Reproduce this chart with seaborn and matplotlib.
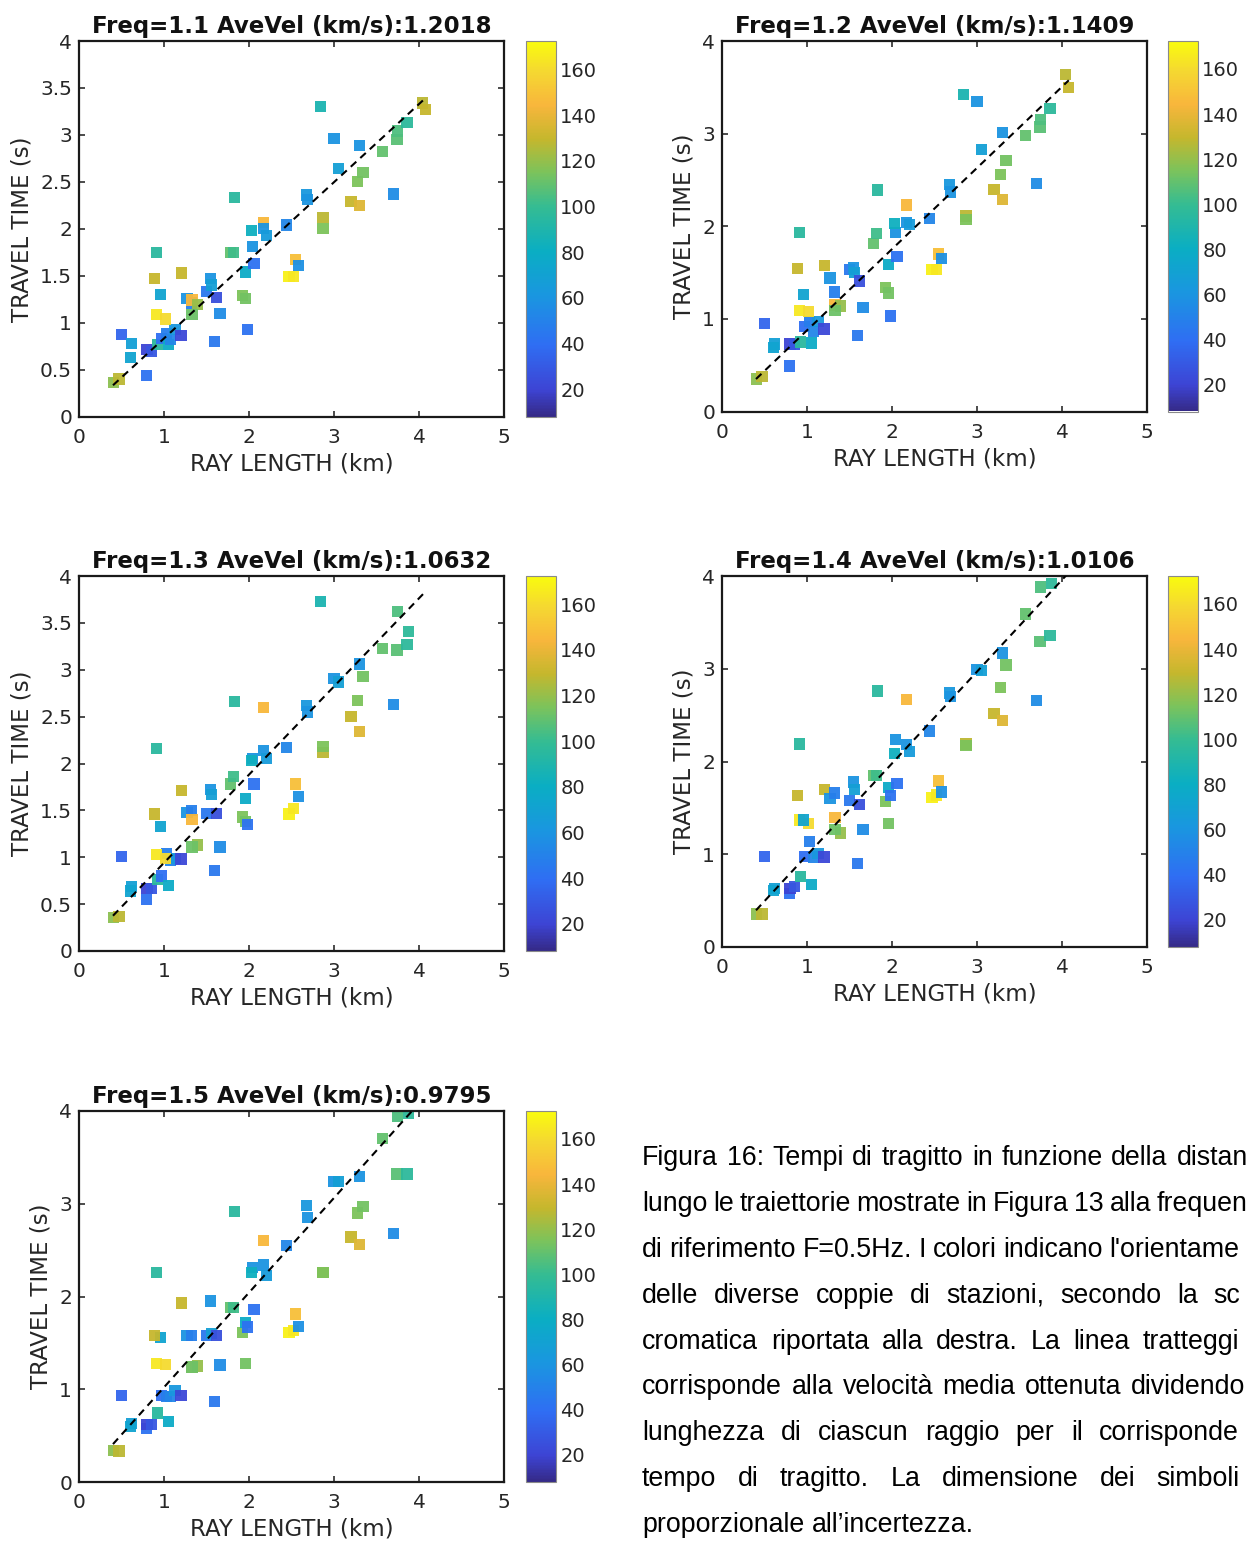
import numpy as np
import pandas as pd
import matplotlib
matplotlib.use("Agg")
import matplotlib.pyplot as plt
import seaborn as sns
from matplotlib.colors import LinearSegmentedColormap, Normalize
from matplotlib.ticker import FixedLocator, FuncFormatter
import matplotlib.cm as cm

nan = np.nan

# ---------------- data ----------------
RAY_LENGTH = [0.41, 0.47, 0.50, 0.62, 0.61, 0.79, 0.80, 0.85, 0.92, 0.97,
              1.03, 1.05, 1.08, 1.13, 1.20, 0.91, 1.02, 0.96, 0.89, 0.91,
              1.21, 1.27, 1.32, 1.33, 1.39, 1.33, 1.50, 1.55, 1.56, 1.62,
              1.66, 1.59, 1.78, 1.82, 1.83, 1.92, 1.96, 1.96, 1.98, 2.06,
              2.04, 2.03, 2.17, 2.17, 2.21, 2.44, 2.47, 2.52, 2.55, 2.58,
              2.68, 2.69, 2.84, 2.87, 2.87, 3.00, 3.05, 3.20, 3.30, 3.28,
              3.34, 3.30, 3.57, 3.70, 3.74, 3.75, 3.86, 4.04, 4.08, 3.88]

AZIMUTH = [118, 128, 35, 68, 72, 42, 20, 28, 95, 40,
           48, 78, 52, 62, 22, 165, 160, 72, 130, 95,
           130, 60, 48, 145, 120, 112, 45, 60, 68, 25,
           55, 45, 110, 102, 95, 115, 113, 78, 42, 42,
           60, 82, 145, 60, 65, 52, 168, 165, 148, 58,
           62, 60, 88, 128, 115, 60, 68, 130, 137, 115,
           113, 60, 110, 55, 108, 105, 96, 128, 130, 97]

TT_F11 = [0.36, 0.40, 0.87, 0.78, 0.63, 0.44, 0.71, 0.69, 0.77, 0.83,
          0.88, 0.77, 0.82, 0.93, 0.86, 1.09, 1.04, 1.30, 1.47, 1.75,
          1.53, 1.26, 1.21, 1.24, 1.19, 1.09, 1.33, 1.47, 1.40, 1.27,
          1.10, 0.80, 1.75, 1.75, 2.33, 1.29, 1.26, 1.54, 0.93, 1.63,
          1.81, 1.98, 2.07, 2.00, 1.93, 2.04, 1.49, 1.49, 1.67, 1.61,
          2.36, 2.31, 3.30, 2.12, 2.00, 2.96, 2.64, 2.29, 2.25, 2.50,
          2.60, 2.89, 2.82, 2.37, 2.95, 3.04, 3.13, 3.34, 3.27, nan]

TT_F12 = [0.35, 0.38, 0.95, 0.73, 0.69, 0.49, 0.73, 0.72, 0.75, 0.92,
          0.97, 0.74, 0.86, 0.97, 0.89, 1.09, 1.08, 1.26, 1.54, 1.93,
          1.58, 1.44, 1.29, 1.15, 1.14, 1.09, 1.53, 1.55, 1.50, 1.41,
          1.12, 0.82, 1.81, 1.92, 2.39, 1.34, 1.28, 1.59, 1.03, 1.67,
          1.93, 2.03, 2.23, 2.04, 2.02, 2.08, 1.53, 1.53, 1.70, 1.65,
          2.45, 2.37, 3.42, 2.11, 2.07, 3.35, 2.83, 2.40, 2.29, 2.56,
          2.71, 3.01, 2.98, 2.46, 3.07, 3.15, 3.27, 3.64, 3.50, nan]

TT_F13 = [0.355, 0.37, 1.01, 0.69, 0.64, 0.55, 0.67, 0.67, 0.76, 0.80,
          1.04, 0.70, 0.97, 0.99, 0.98, 1.03, 0.99, 1.33, 1.46, 2.16,
          1.71, 1.48, 1.50, 1.40, 1.13, 1.11, 1.47, 1.72, 1.67, 1.47,
          1.11, 0.86, 1.78, 1.86, 2.66, 1.43, 1.38, 1.63, 1.35, 1.78,
          2.05, 2.03, 2.60, 2.14, 2.05, 2.17, 1.46, 1.52, 1.78, 1.65,
          2.62, 2.55, 3.73, 2.12, 2.18, 2.91, 2.87, 2.50, 2.34, 2.67,
          2.93, 3.06, 3.23, 2.63, 3.21, 3.62, 3.27, nan, nan, 3.41]

TT_F14 = [0.355, 0.355, 0.975, 0.63, 0.61, 0.58, 0.63, 0.65, 0.76, 0.975,
          1.14, 0.67, 0.97, 1.01, 0.97, 1.37, 1.33, 1.37, 1.63, 2.19,
          1.70, 1.60, 1.66, 1.40, 1.23, 1.27, 1.58, 1.78, 1.70, 1.54,
          1.27, 0.90, 1.85, 1.85, 2.76, 1.57, 1.33, 1.72, 1.63, 1.76,
          2.24, 2.09, 2.67, 2.18, 2.11, 2.33, 1.61, 1.64, 1.79, 1.67,
          2.74, 2.70, nan, 2.19, 2.17, 2.99, 2.98, 2.52, 2.44, 2.80,
          3.04, 3.17, 3.59, 2.66, 3.29, 3.88, 3.36, nan, nan, 3.92]

TT_F15 = [0.34, 0.335, 0.935, 0.63, 0.60, 0.575, 0.62, 0.62, 0.745, 0.935,
          0.925, 0.655, 0.925, 0.99, 0.935, 1.28, 1.27, 1.56, 1.58, 2.26,
          1.93, 1.58, 1.58, 1.24, 1.25, 1.24, 1.58, 1.95, 1.60, 1.58,
          1.26, 0.87, 1.88, 1.88, 2.92, 1.61, 1.28, 1.72, 1.67, 1.86,
          2.31, 2.26, 2.60, 2.34, 2.23, 2.55, 1.61, 1.63, 1.81, 1.68,
          2.98, 2.85, nan, 2.26, 2.26, 3.24, 3.24, 2.64, 2.56, 2.90,
          2.97, 3.29, 3.70, 2.68, 3.32, 3.94, 3.32, nan, nan, 3.97]

FREQS = [1.1, 1.2, 1.3, 1.4, 1.5]
AVE_VEL = [1.2018, 1.1409, 1.0632, 1.0106, 0.9795]
TRAVEL_TIMES = [TT_F11, TT_F12, TT_F13, TT_F14, TT_F15]
LINE_X = [0.40, 4.08]

X_TICKS = [0, 1, 2, 3, 4, 5]
Y_TICKS_FINE = [0, 0.5, 1, 1.5, 2, 2.5, 3, 3.5, 4]
Y_TICKS_COARSE = [0, 1, 2, 3, 4]
CBAR_TICKS = [20, 40, 60, 80, 100, 120, 140, 160]
CBAR_LIMITS = (8.0, 172.4)

CAPTION_LINES = [
    "Figura 16: Tempi di tragitto in funzione della distanza",
    "lungo le traiettorie mostrate in Figura 13 alla frequenza",
    "di riferimento F=0.5Hz. I colori indicano l'orientamento",
    "delle diverse coppie di stazioni, secondo la scala",
    "cromatica riportata alla destra. La linea tratteggiata",
    "corrisponde alla velocità media ottenuta dividendo la",
    "lunghezza di ciascun raggio per il corrispondente",
    "tempo di tragitto. La dimensione dei simboli è",
    "proporzionale all\u2019incertezza.",
]

# ---------------- style ----------------
sns.set_theme(style="white")
plt.rcParams["font.family"] = ["DejaVu Sans"]

PARULA = LinearSegmentedColormap.from_list("parula_like", [
    (0.00, "#352A87"), (0.07, "#3D44D4"), (0.19, "#2F6EF3"),
    (0.32, "#1A96E0"), (0.44, "#0AAEC3"), (0.56, "#35BC92"),
    (0.65, "#7BC35C"), (0.74, "#C5B72D"), (0.83, "#F8B63C"),
    (0.92, "#F5D831"), (1.00, "#F9FB0E")])
NORM = Normalize(vmin=CBAR_LIMITS[0], vmax=CBAR_LIMITS[1])

W, H = 1250, 1544
fig = plt.figure(figsize=(W / 100, H / 100), dpi=100)
fig.patch.set_facecolor("white")


def px_rect(l, t, r, b):
    return [l / W, 1 - b / H, (r - l) / W, (b - t) / H]


PANELS = [
    ((79, 41, 504, 416.5), (526, 41, 556, 416.5), Y_TICKS_FINE),
    ((722, 41, 1147, 411.5), (1168, 41, 1198, 411.5), Y_TICKS_COARSE),
    ((79, 576, 504, 951), (526, 576, 556, 951), Y_TICKS_FINE),
    ((722, 576, 1147, 947), (1168, 576, 1198, 947), Y_TICKS_COARSE),
    ((79, 1111, 504, 1482), (526, 1111, 556, 1482), Y_TICKS_COARSE),
]

fmt = FuncFormatter(lambda v, p: "%g" % v)
TXT = "#262626"

for i, (arect, crect, yticks) in enumerate(PANELS):
    ax = fig.add_axes(px_rect(*arect))
    df = pd.DataFrame({"x": RAY_LENGTH, "y": TRAVEL_TIMES[i], "c": AZIMUTH})
    sns.scatterplot(data=df, x="x", y="y", hue="c", palette=PARULA,
                    hue_norm=NORM, marker="s", s=66, linewidth=0,
                    alpha=0.95, legend=False, ax=ax, zorder=2)
    lx = np.array(LINE_X)
    ax.plot(lx, lx / AVE_VEL[i], color="black", lw=1.5,
            linestyle=(0, (3.6, 2.6)), zorder=3)
    ax.set_xlim(0, 5)
    ax.set_ylim(0, 4)
    ax.xaxis.set_major_locator(FixedLocator(X_TICKS))
    ax.yaxis.set_major_locator(FixedLocator(yticks))
    ax.xaxis.set_major_formatter(fmt)
    ax.yaxis.set_major_formatter(fmt)
    for sp in ax.spines.values():
        sp.set_visible(True)
        sp.set_color("#1a1a1a")
        sp.set_linewidth(1.6)
    ax.tick_params(axis="both", direction="in", length=4, width=1.1,
                   color="#1a1a1a", top=True, right=True, bottom=True,
                   left=True, labelsize=14.5, labelcolor=TXT)
    ax.tick_params(axis="x", pad=8)
    ax.tick_params(axis="y", pad=5)
    ax.set_xlabel("RAY LENGTH (km)", fontsize=16.5, color=TXT, labelpad=4)
    ax.set_ylabel("TRAVEL TIME (s)", fontsize=16.5, color=TXT, labelpad=5)
    ax.set_title("Freq=%g AveVel (km/s):%.4f" % (FREQS[i], AVE_VEL[i]),
                 fontsize=16.5, fontweight="bold", color="#111111", pad=6)
    ax.grid(False)
    ax.set_facecolor("white")

    cax = fig.add_axes(px_rect(*crect))
    sm = cm.ScalarMappable(norm=NORM, cmap=PARULA)
    cb = fig.colorbar(sm, cax=cax)
    cb.set_ticks(CBAR_TICKS)
    cb.outline.set_edgecolor("#8a8a8a")
    cb.outline.set_linewidth(0.8)
    cax.tick_params(direction="in", length=3, width=0.8, color="#555555",
                    labelsize=14, labelcolor=TXT, pad=3)

# ---------------- caption (justified, clipped at the right page edge) ----------------
renderer = fig.canvas.get_renderer()
CAP_FS = 19.3
CAP_X0, CAP_X1 = 642, 1276
CAP_Y0, CAP_DY = 1165, 45.9
RIGHT_LIMIT = W - 2
space_w = CAP_FS * 0.278 * 100 / 72


def text_w(t):
    return t.get_window_extent(renderer).width


for li, line in enumerate(CAPTION_LINES):
    words = line.split(" ")
    yb = 1 - (CAP_Y0 + li * CAP_DY) / H
    texts = [fig.text(0, yb, w, fontsize=CAP_FS, family="Liberation Sans",
                      color="black", va="baseline", ha="left") for w in words]
    widths = [text_w(t) for t in texts]
    if li < len(CAPTION_LINES) - 1 and len(words) > 1:
        gap = (CAP_X1 - CAP_X0 - sum(widths)) / (len(words) - 1)
    else:
        gap = space_w
    x = CAP_X0
    for t, w in zip(texts, widths):
        t.set_x(x / W)
        if x >= RIGHT_LIMIT:
            t.remove()
        elif x + w > RIGHT_LIMIT:
            s = t.get_text()
            while s and x + text_w(t) > RIGHT_LIMIT:
                s = s[:-1]
                t.set_text(s)
        x += w + gap

fig.savefig("out.png", dpi=100, facecolor="white")
